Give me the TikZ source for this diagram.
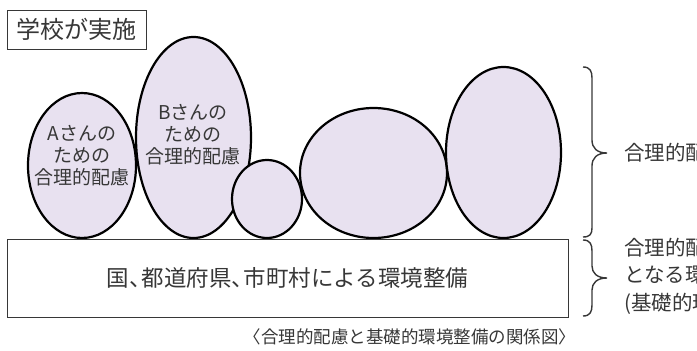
\documentclass[tikz,border=0pt]{standalone}
\usepackage{fontspec}
\setmainfont{Noto Sans CJK JP}
\usetikzlibrary{shapes.geometric}
\definecolor{lav}{RGB}{232,225,240}
\definecolor{txt}{RGB}{55,55,55}
\newcommand{\tc}{、\hspace{-0.45em}}
\begin{document}
\begin{tikzpicture}[x=1pt,y=-1pt,
  bub/.style={ellipse, draw=black, line width=2.2pt, fill=lav, inner sep=0pt},
  boxstyle/.style={rectangle, draw=txt, line width=0.9pt, inner sep=0pt, text=txt},
  lbl/.style={text=txt, font=\fontsize{19}{22}\selectfont, align=center, inner sep=0pt},
  side/.style={text=txt, font=\fontsize{20.5}{27.5}\selectfont, align=left, inner sep=0pt, anchor=west},
  brc/.style={draw=txt, line width=1.4pt}]
\useasboundingbox (0,0) rectangle (697,351);
\clip (0,0) rectangle (697,351);
% top box
\node[boxstyle, minimum width=139pt, minimum height=39pt, font=\fontsize{24}{26}\selectfont] (school) at (76.5,29.5) {学校が実施};
% bubbles
\node[bub, minimum width=108pt, minimum height=145pt] (ea) at (82,165.5) {};
\node[bub, minimum width=115pt, minimum height=201pt] (eb) at (193.5,137.5) {};
\node[bub, minimum width=70pt, minimum height=78pt] (ec) at (267,199) {};
\node[bub, minimum width=147pt, minimum height=130pt] (ed) at (373.5,173) {};
\node[bub, minimum width=115pt, minimum height=171pt] (ee) at (503.5,152.5) {};
\node[lbl] (ta) at (82,156) {Aさんの\\ための\\合理的配慮};
\node[lbl] (tb) at (193,135) {Bさんの\\ための\\合理的配慮};
% base box
\node[boxstyle, minimum width=561pt, minimum height=78pt, font=\fontsize{22.5}{25}\selectfont] (base) at (287.5,278) {国\tc 都道府県\tc 市町村による環境整備};
% braces
\coordinate (b1t) at (583,67);
\coordinate (b1b) at (583,237);
\coordinate (b1m) at (607,153);
\draw[brc] (b1t) .. controls (590,67) and (592,71) .. (592,78) -- (592,140)
  .. controls (592,148) and (597,153) .. (b1m)
  .. controls (597,153) and (592,158) .. (592,166) -- (592,228)
  .. controls (592,234) and (590,237) .. (b1b);
\coordinate (b2t) at (583,240);
\coordinate (b2b) at (583,316);
\coordinate (b2m) at (607,278);
\draw[brc] (b2t) .. controls (590,240) and (592,244) .. (592,251) -- (592,266)
  .. controls (592,273) and (597,278) .. (b2m)
  .. controls (597,278) and (592,283) .. (592,290) -- (592,305)
  .. controls (592,312) and (590,316) .. (b2b);
\node[side] (r1) at (624,153) {合理的配慮};
\node[side] (r2) at (624,276) {合理的配慮の基礎\\となる環境整備\\(基礎的環境整備)};
% caption
\node[text=txt, font=\fontsize{17.5}{20}\selectfont, inner sep=0pt] (cap) at (410,337) {〈合理的配慮と基礎的環境整備の関係図〉};
\end{tikzpicture}
\end{document}
